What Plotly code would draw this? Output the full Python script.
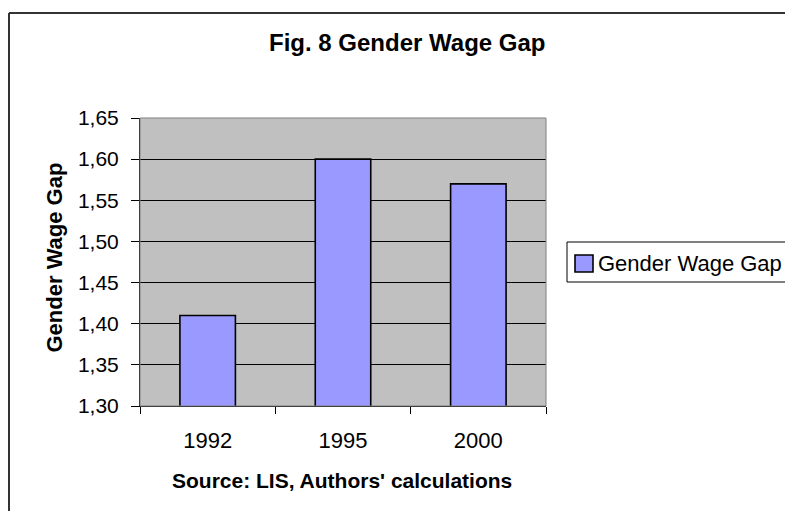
import plotly.graph_objects as go

years = ["1992", "1995", "2000"]
gap_values = [1.41, 1.60, 1.57]
series_name = "Gender Wage Gap"
y_ticks = [1.30, 1.35, 1.40, 1.45, 1.50, 1.55, 1.60, 1.65]

OFF = 8  # page body margin
W, H = 793 - 2 * OFF, 519 - 2 * OFF
# plot area in screen pixels
SL, SR, ST, SB = 140, 546, 118, 406
L, R, T, B = SL - OFF, SR - OFF, ST - OFF, SB - OFF
pw, ph = R - L, B - T

def px(x):
    return (x - OFF - L) / pw

def py(y):
    return (B - (y - OFF)) / ph

FONT = "Liberation Sans, Arial, sans-serif"

fig = go.Figure()
fig.add_trace(go.Bar(
    x=years, y=gap_values, name=series_name,
    marker=dict(color="#9999FF", line=dict(color="black", width=1.6)),
    width=0.41, showlegend=False,
))

fig.update_layout(
    width=W, height=H,
    margin=dict(l=L, r=W - R, t=T, b=H - B),
    paper_bgcolor="white", plot_bgcolor="#C0C0C0",
    separators=",.",
    font=dict(family=FONT, size=21, color="black"),
    xaxis=dict(
        type="category", tickson="boundaries", ticks="outside", ticklen=7,
        tickcolor="black", showline=True, linecolor="black", linewidth=1,
        showgrid=False, tickfont=dict(size=22), ticklabelstandoff=15,
    ),
    yaxis=dict(
        range=[1.30, 1.65], tickvals=y_ticks, tickformat=".2f",
        ticks="outside", ticklen=8, tickcolor="black",
        showline=True, linecolor="black", linewidth=1,
        showgrid=True, gridcolor="black", gridwidth=1,
        tickfont=dict(size=21), ticklabelstandoff=8, zeroline=False,
    ),
    shapes=[
        dict(type="rect", xref="paper", yref="paper", x0=0, x1=1, y0=0, y1=1,
             line=dict(color="#808080", width=1), layer="above"),
        dict(type="line", xref="paper", yref="paper", x0=px(9), x1=px(9), y0=py(519), y1=py(13),
             line=dict(color="#333333", width=2)),
        dict(type="line", xref="paper", yref="paper", x0=px(9), x1=px(793), y0=py(13), y1=py(13),
             line=dict(color="#333333", width=2)),
        dict(type="rect", xref="paper", yref="paper", x0=px(567), x1=px(792), y0=py(282), y1=py(242),
             line=dict(color="black", width=1), fillcolor="white"),
        dict(type="rect", xref="paper", yref="paper", x0=px(575), x1=px(593), y0=py(272), y1=py(255),
             line=dict(color="black", width=1.6), fillcolor="#9999FF"),
    ],
    annotations=[
        dict(text="<b>Fig. 8 Gender Wage Gap</b>", xref="paper", yref="paper",
             x=px(407), y=py(43), showarrow=False, font=dict(size=24), xanchor="center", yanchor="middle"),
        dict(text="<b>Gender Wage Gap</b>", xref="paper", yref="paper",
             x=px(54), y=py(257.5), showarrow=False, textangle=-90, font=dict(size=22),
             xanchor="center", yanchor="middle"),
        dict(text="<b>Source: LIS, Authors' calculations</b>", xref="paper", yref="paper",
             x=px(342), y=py(480), showarrow=False, font=dict(size=21), xanchor="center", yanchor="middle"),
        dict(text=series_name, xref="paper", yref="paper",
             x=px(596), y=py(263), showarrow=False, font=dict(size=22), xanchor="left", yanchor="middle"),
    ],
)

fig.write_html("out.html")
